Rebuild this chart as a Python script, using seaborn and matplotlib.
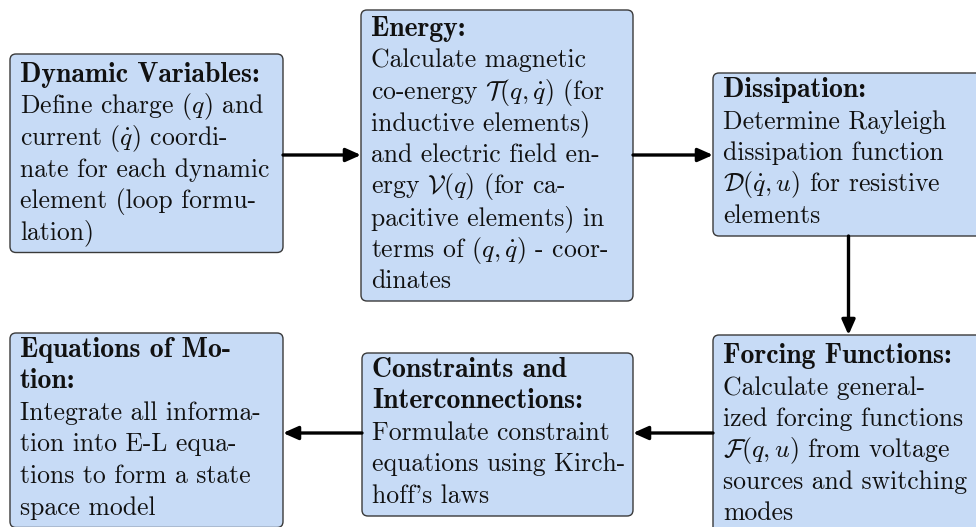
import matplotlib
matplotlib.use("Agg")
import matplotlib.pyplot as plt
from matplotlib.patches import FancyBboxPatch, FancyArrowPatch
import seaborn as sns

# --- estilo ---
sns.set_theme(style="white")
plt.rcParams['font.family'] = ['cmr10', 'DejaVu Serif']
plt.rcParams['mathtext.fontset'] = 'cm'
plt.rcParams['axes.formatter.use_mathtext'] = True

# --- contenido de las cajas ---
titulos = [
    ["Dynamic Variables:"],
    ["Energy:"],
    ["Dissipation:"],
    ["Forcing Functions:"],
    ["Constraints and", "Interconnections:"],
    ["Equations of Mo-", "tion:"],
]
cuerpos = [
    ["Define charge $(q)$ and", r"current $(\dot{q})$ coordi-",
     "nate for each dynamic", "element (loop formu-", "lation)"],
    ["Calculate magnetic", r"co-energy $\mathcal{T}(q,\dot{q})$ (for",
     "inductive elements)", "and electric field en-",
     r"ergy $\mathcal{V}(q)$ (for ca-", "pacitive elements) in",
     r"terms of $(q,\dot{q})$ - coor-", "dinates"],
    ["Determine Rayleigh", "dissipation function",
     r"$\mathcal{D}(\dot{q},u)$ for resistive", "elements"],
    ["Calculate general-", "ized forcing functions",
     r"$\mathcal{F}(q,u)$ from voltage", "sources and switching", "modes"],
    ["Formulate constraint", "equations using Kirch-", "hoff's laws"],
    ["Integrate all informa-", "tion into E-L equa-",
     "tions to form a state", "space model"],
]
# flujo entre cajas (origen, destino, lado)
flujo = [(0, 1, "h"), (1, 2, "h"), (2, 3, "v"), (3, 4, "h"), (4, 5, "h")]

# --- layout (pixeles) ---
pos = [  # x, y_top, width, first-baseline offset
    (10, 54, 273, 28),
    (361, 10, 272, 26),
    (713, 73, 275, 24),
    (713, 335, 275, 28),
    (362, 353, 271, 24),
    (10, 333, 273, 24),
]
paso = 31.5
relleno = "#C7DBF6"
borde = "#3a3a3a"
fs = 18.5
fs_tit = 20.0

fig = plt.figure(figsize=(9.76, 5.27), dpi=100)
ax = fig.add_axes([0, 0, 1, 1])
ax.set_xlim(0, 976)
ax.set_ylim(527, 0)
ax.axis("off")

cajas = []
for (x, y, w, off), tit, cue in zip(pos, titulos, cuerpos):
    n = len(tit) + len(cue)
    h = off + (n - 1) * paso + 13
    cajas.append((x, y, w, h))
    ax.add_patch(FancyBboxPatch((x, y), w, h,
                                boxstyle="round,pad=0,rounding_size=6",
                                fc=relleno, ec=borde, lw=1.0, zorder=2))
    for i, linea in enumerate(tit + cue):
        es_tit = i < len(tit)
        fam = 'cmb10' if es_tit else 'cmr10'
        ax.text(x + 10, y + off + i * paso, linea,
                fontsize=fs_tit if es_tit else fs,
                family=[fam, 'DejaVu Serif'], color="#111111",
                ha="left", va="baseline", zorder=3)

for a, b, lado in flujo:
    xa, ya, wa, ha = cajas[a]
    xb, yb, wb, hb = cajas[b]
    if lado == "v":
        xc = xa + wa / 2 - 2
        ini, fin = (xc, ya + ha), (xc, yb)
    elif xb > xa:
        yc = 155
        ini, fin = (xa + wa, yc), (xb, yc)
    else:
        yc = 433
        ini, fin = (xa, yc), (xb + wb, yc)
    ax.add_patch(FancyArrowPatch(ini, fin, shrinkA=0, shrinkB=0,
                                 arrowstyle="-|>,head_length=0.45,head_width=0.2",
                                 mutation_scale=20, lw=2.4, color="black",
                                 zorder=4))

fig.savefig("out.png", dpi=100)
